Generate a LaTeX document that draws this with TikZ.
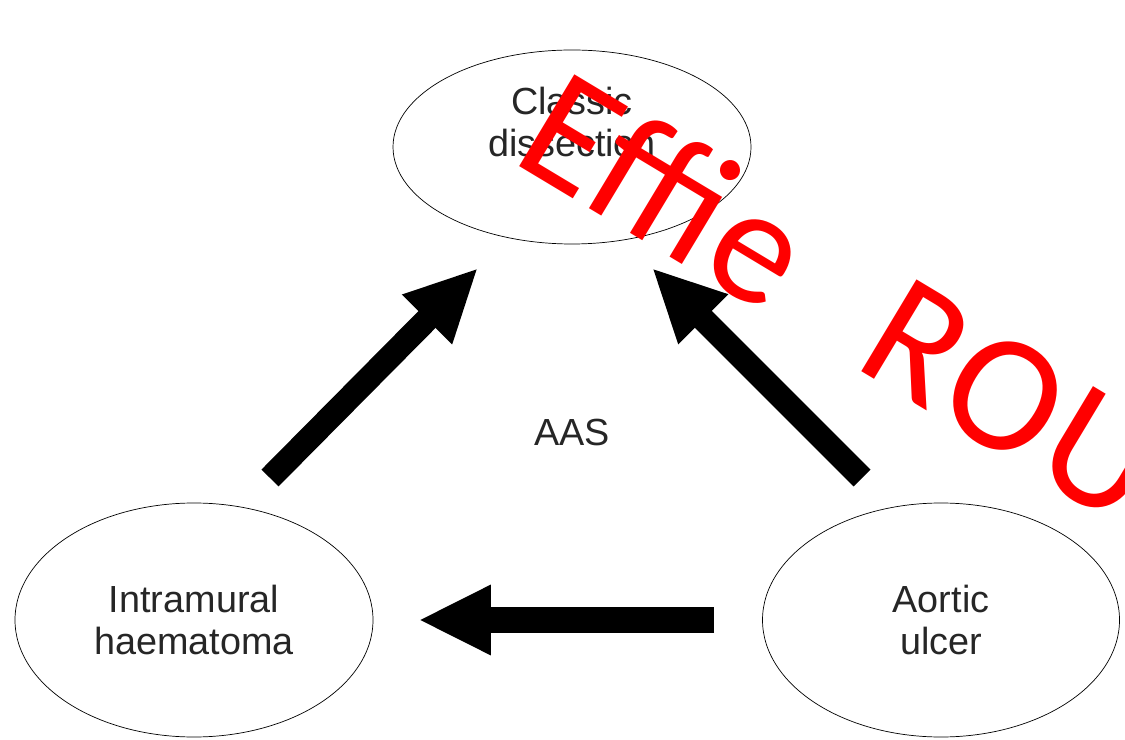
\documentclass[tikz,border=0pt]{standalone}
\usepackage{fontspec}
\setmainfont{Liberation Sans}
\newfontfamily\markfont[LetterSpace=2]{Carlito}
\usetikzlibrary{arrows.meta,positioning,shapes.geometric}

\begin{document}
\begin{tikzpicture}[>=Latex]
  \tikzstyle{syndrome}=[draw, ellipse, inner sep=0pt, align=center, font=\fontsize{21.5}{24}\selectfont, text=black!85]
  \tikzstyle{caption}=[align=center, font=\fontsize{21.5}{24}\selectfont, text=black!85]
  \tikzstyle{fatarrow}=[-{Triangle[length=1.45cm, width=1.3cm]}, line width=0.48cm]
  \useasboundingbox (0,0) rectangle (22.5,14.78);
  \clip (0,0) rectangle (22.5,14.78);
  \node[syndrome, minimum width=7.16cm, minimum height=3.88cm] (cls) at (11.44,11.84) {};
  \node[caption] (clstext) at ([yshift=0.5cm]cls.center) {Classic\\dissection};
  \node[syndrome, minimum width=7.16cm, minimum height=4.68cm] (imh) at (3.88,2.38) {Intramural\\haematoma};
  \node[syndrome, minimum width=7.14cm, minimum height=4.68cm] (pau) at (18.82,2.38) {Aortic\\ulcer};
  \node[caption] (aas) at (11.44,6.14) {AAS};
  % arrow ends off the ellipse borders
  \coordinate (imhout) at (5.40,5.22);
  \coordinate (clsinl) at (9.56,9.42);
  \coordinate (pauout) at (17.24,5.22);
  \coordinate (clsinr) at (13.04,9.42);
  \draw[fatarrow] (imhout) -- (clsinl);
  \draw[fatarrow] (pauout) -- (clsinr);
  \draw[fatarrow, line width=0.52cm, shorten <=0.96cm, shorten >=0.9cm] (pau) -- (imh);
  % red stamp across the top
  \node[font=\markfont\fontsize{95}{95}\selectfont, text=red, rotate=-31, anchor=base west, inner sep=0pt] (stamp) at (10.18,11.58) {Effie\hspace{1.15cm} ROU};
\end{tikzpicture}
\end{document}
